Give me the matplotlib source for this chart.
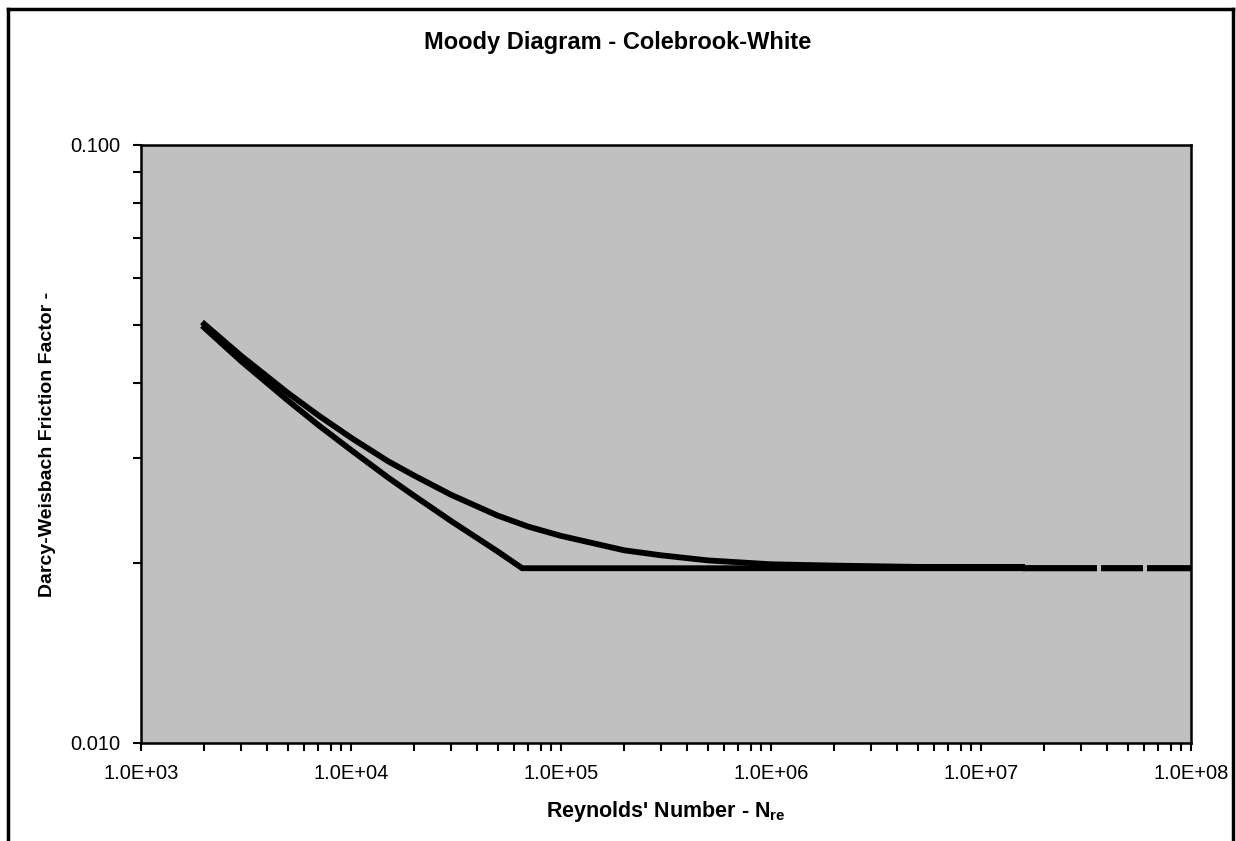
import numpy as np
import matplotlib.pyplot as plt
from matplotlib.lines import Line2D
from matplotlib.ticker import LogLocator, FuncFormatter, NullFormatter

plt.rcParams['font.family'] = ['Liberation Sans', 'DejaVu Sans']
plt.rcParams['mathtext.fontset'] = 'custom'
plt.rcParams['mathtext.rm'] = 'Liberation Sans'
plt.rcParams['mathtext.bf'] = 'Liberation Sans:bold'

nan = np.nan

# Colebrook-White, rough pipe (upper curve)
re_rough = [2000, 3000, 5000, 7000, 1e4, 1.5e4, 2e4, 3e4, 5e4, 7e4, 1e5, 2e5,
            3e5, 5e5, 1e6, 2e6, 5e6, 1e7, 1.57e7, 1.60e7, 1.64e7, 3.45e7,
            3.60e7, 3.85e7, 5.72e7, 6.0e7, 6.38e7, 1e8]
f_rough = [0.0502, 0.0444, 0.0385, 0.0353, 0.0324, 0.0296, 0.0280, 0.0260,
           0.0240, 0.0230, 0.0222, 0.0210, 0.0206, 0.0202, 0.0199, 0.0198,
           0.0197, 0.0197, 0.0197, nan, 0.0196, 0.0196, nan, 0.0196, 0.0196,
           nan, 0.0196, 0.0196]

# smooth pipe, cut at the fully rough value (lower curve)
re_smooth = [2000, 3000, 5000, 7000, 1e4, 1.5e4, 2e4, 3e4, 4e4, 5e4, 6.53e4,
             1e6, 1.57e7, 1.60e7, 1.64e7, 3.45e7, 3.60e7, 3.85e7, 5.72e7,
             6.0e7, 6.38e7, 1e8]
f_smooth = [0.0495, 0.0435, 0.0374, 0.0340, 0.0309, 0.0278, 0.0259, 0.0235,
            0.0220, 0.0209, 0.0196, 0.0196, 0.0196, nan, 0.0196, 0.0196, nan,
            0.0196, 0.0196, nan, 0.0196, 0.0196]

fig = plt.figure(figsize=(12.36, 8.41), dpi=100)
ax = fig.add_axes([141 / 1236, 1 - 743 / 841, 1050 / 1236, 598 / 841])
ax.set_facecolor('#C0C0C0')

ax.plot(re_smooth, f_smooth, color='black', lw=4.2, solid_joinstyle='miter')
ax.plot(re_rough, f_rough, color='black', lw=4.2, solid_joinstyle='miter')

ax.set_xscale('log')
ax.set_yscale('log')
ax.set_xlim(1e3, 1e8)
ax.set_ylim(0.01, 0.1)

ax.xaxis.set_major_locator(LogLocator(base=10, numticks=10))
ax.xaxis.set_minor_locator(LogLocator(base=10, subs=np.arange(2, 10), numticks=20))
ax.xaxis.set_major_formatter(FuncFormatter(lambda v, p: f"{v:.1E}"))
ax.xaxis.set_minor_formatter(NullFormatter())
ax.yaxis.set_major_locator(LogLocator(base=10, numticks=10))
ax.yaxis.set_minor_locator(LogLocator(base=10, subs=np.arange(2, 10), numticks=20))
ax.yaxis.set_major_formatter(FuncFormatter(lambda v, p: f"{v:.3f}"))
ax.yaxis.set_minor_formatter(NullFormatter())

ax.tick_params(which='both', direction='out', length=6, width=1.5, color='black')
ax.tick_params(which='major', labelsize=14.5, pad=9)
for s in ax.spines.values():
    s.set_color('black')
    s.set_linewidth(1.8)

fig.text(0.5, 1 - 42 / 841, 'Moody Diagram - Colebrook-White', fontsize=17,
         fontweight='bold', ha='center', va='center')
ax.set_xlabel(r"Reynolds' Number - N$_{\mathbf{re}}$", fontsize=15.5, fontweight='bold', labelpad=12)
ax.set_ylabel('Darcy-Weisbach Friction Factor -', fontsize=14, fontweight='bold', labelpad=10)

# chart frame (open at the bottom)
frame = dict(color='black', lw=2.5, transform=fig.transFigure)
fig.add_artist(Line2D([8 / 1236, 8 / 1236], [0, 1 - 9 / 841], **frame))
fig.add_artist(Line2D([8 / 1236, 1233 / 1236], [1 - 9 / 841, 1 - 9 / 841], **frame))
fig.add_artist(Line2D([1233 / 1236, 1233 / 1236], [0, 1 - 9 / 841], **frame))

fig.savefig('out.png', dpi=100, facecolor='white')
